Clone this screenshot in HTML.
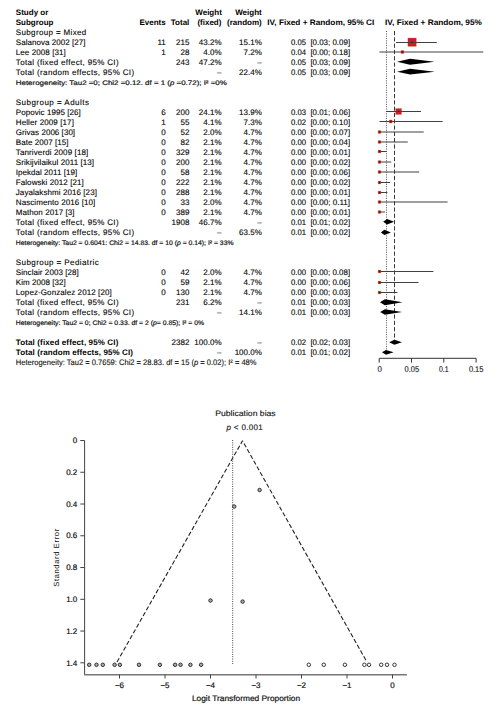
<!DOCTYPE html>
<html><head><meta charset="utf-8"><title>Forest and funnel plot</title>
<style>
html,body{margin:0;padding:0;background:#fff;}
svg{display:block;}
text{font-family:"Liberation Sans", sans-serif;text-rendering:geometricPrecision;stroke:#111;stroke-width:0.12px;}
text[font-weight=bold]{stroke-width:0.02px;}
</style></head>
<body>
<svg width="499" height="712" viewBox="0 0 499 712">
<rect width="499" height="712" fill="#fff"/>
<g id="table">
<text x="15.8" y="14.5" font-size="8" font-weight="bold" textLength="32.6" lengthAdjust="spacingAndGlyphs">Study or</text>
<text x="15.8" y="24.5" font-size="8" font-weight="bold" textLength="37.6" lengthAdjust="spacingAndGlyphs">Subgroup</text>
<text x="165.7" y="24.5" font-size="8" text-anchor="end" font-weight="bold">Events</text>
<text x="189.3" y="24.5" font-size="8" text-anchor="end" font-weight="bold">Total</text>
<text x="221.8" y="14.5" font-size="8" text-anchor="end" font-weight="bold">Weight</text>
<text x="221.4" y="24.5" font-size="8" text-anchor="end" font-weight="bold">(fixed)</text>
<text x="261.7" y="14.5" font-size="8" text-anchor="end" font-weight="bold">Weight</text>
<text x="261.7" y="24.5" font-size="8" text-anchor="end" font-weight="bold">(random)</text>
<text x="267.3" y="24.5" font-size="8" font-weight="bold" textLength="107" lengthAdjust="spacingAndGlyphs">IV, Fixed + Random, 95% CI</text>
<text x="385" y="24.5" font-size="8" font-weight="bold" textLength="96.9" lengthAdjust="spacingAndGlyphs">IV, Fixed + Random, 95%</text>
<text x="15.8" y="34.5" font-size="8" textLength="70.5" lengthAdjust="spacing">Subgroup = Mixed</text>
<text x="15.8" y="44.5" font-size="8" textLength="69.8" lengthAdjust="spacing">Salanova 2002 [27]</text>
<text x="165.7" y="44.5" font-size="8" text-anchor="end">11</text>
<text x="189.4" y="44.5" font-size="8" text-anchor="end">215</text>
<text x="221.5" y="44.5" font-size="8" text-anchor="end">43.2%</text>
<text x="261.8" y="44.5" font-size="8" text-anchor="end">15.1%</text>
<text x="291.0" y="44.5" font-size="8" textLength="15.0" lengthAdjust="spacingAndGlyphs">0.05</text>
<text x="310.4" y="44.5" font-size="8" textLength="39.7" lengthAdjust="spacingAndGlyphs">[0.03; 0.09]</text>
<text x="15.8" y="54.5" font-size="8" textLength="50.0" lengthAdjust="spacing">Lee 2008 [31]</text>
<text x="165.7" y="54.5" font-size="8" text-anchor="end">1</text>
<text x="189.4" y="54.5" font-size="8" text-anchor="end">28</text>
<text x="221.5" y="54.5" font-size="8" text-anchor="end">4.0%</text>
<text x="261.8" y="54.5" font-size="8" text-anchor="end">7.2%</text>
<text x="291.0" y="54.5" font-size="8" textLength="15.0" lengthAdjust="spacingAndGlyphs">0.04</text>
<text x="310.4" y="54.5" font-size="8" textLength="39.7" lengthAdjust="spacingAndGlyphs">[0.00; 0.18]</text>
<text x="15.8" y="64.5" font-size="8" textLength="102.8" lengthAdjust="spacing">Total (fixed effect, 95% CI)</text>
<text x="189.4" y="64.5" font-size="8" text-anchor="end">243</text>
<text x="221.5" y="64.5" font-size="8" text-anchor="end">47.2%</text>
<text x="261.8" y="64.5" font-size="8" text-anchor="end" style="stroke-width:0.12px">–</text>
<text x="291.0" y="64.5" font-size="8" textLength="15.0" lengthAdjust="spacingAndGlyphs">0.05</text>
<text x="310.4" y="64.5" font-size="8" textLength="39.7" lengthAdjust="spacingAndGlyphs">[0.03; 0.09]</text>
<text x="15.8" y="74.5" font-size="8" textLength="118.3" lengthAdjust="spacing">Total (random effects, 95% CI)</text>
<text x="221.5" y="74.5" font-size="8" text-anchor="end" style="stroke-width:0.12px">–</text>
<text x="261.8" y="74.5" font-size="8" text-anchor="end">22.4%</text>
<text x="291.0" y="74.5" font-size="8" textLength="15.0" lengthAdjust="spacingAndGlyphs">0.05</text>
<text x="310.4" y="74.5" font-size="8" textLength="39.7" lengthAdjust="spacingAndGlyphs">[0.03; 0.09]</text>
<text x="15.8" y="104.5" font-size="8" textLength="73.1" lengthAdjust="spacing">Subgroup = Adults</text>
<text x="15.8" y="114.5" font-size="8" textLength="65.0" lengthAdjust="spacing">Popovic 1995 [26]</text>
<text x="165.7" y="114.5" font-size="8" text-anchor="end">6</text>
<text x="189.4" y="114.5" font-size="8" text-anchor="end">200</text>
<text x="221.5" y="114.5" font-size="8" text-anchor="end">24.1%</text>
<text x="261.8" y="114.5" font-size="8" text-anchor="end">13.9%</text>
<text x="291.0" y="114.5" font-size="8" textLength="15.0" lengthAdjust="spacingAndGlyphs">0.03</text>
<text x="310.4" y="114.5" font-size="8" textLength="39.7" lengthAdjust="spacingAndGlyphs">[0.01; 0.06]</text>
<text x="15.8" y="124.5" font-size="8" textLength="58.1" lengthAdjust="spacing">Heller 2009 [17]</text>
<text x="165.7" y="124.5" font-size="8" text-anchor="end">1</text>
<text x="189.4" y="124.5" font-size="8" text-anchor="end">55</text>
<text x="221.5" y="124.5" font-size="8" text-anchor="end">4.1%</text>
<text x="261.8" y="124.5" font-size="8" text-anchor="end">7.3%</text>
<text x="291.0" y="124.5" font-size="8" textLength="15.0" lengthAdjust="spacingAndGlyphs">0.02</text>
<text x="310.4" y="124.5" font-size="8" textLength="39.7" lengthAdjust="spacingAndGlyphs">[0.00; 0.10]</text>
<text x="15.8" y="134.5" font-size="8" textLength="59.3" lengthAdjust="spacing">Grivas 2006 [30]</text>
<text x="165.7" y="134.5" font-size="8" text-anchor="end">0</text>
<text x="189.4" y="134.5" font-size="8" text-anchor="end">52</text>
<text x="221.5" y="134.5" font-size="8" text-anchor="end">2.0%</text>
<text x="261.8" y="134.5" font-size="8" text-anchor="end">4.7%</text>
<text x="291.0" y="134.5" font-size="8" textLength="15.0" lengthAdjust="spacingAndGlyphs">0.00</text>
<text x="310.4" y="134.5" font-size="8" textLength="39.7" lengthAdjust="spacingAndGlyphs">[0.00; 0.07]</text>
<text x="15.8" y="144.5" font-size="8" textLength="52.6" lengthAdjust="spacing">Bate 2007 [15]</text>
<text x="165.7" y="144.5" font-size="8" text-anchor="end">0</text>
<text x="189.4" y="144.5" font-size="8" text-anchor="end">82</text>
<text x="221.5" y="144.5" font-size="8" text-anchor="end">2.1%</text>
<text x="261.8" y="144.5" font-size="8" text-anchor="end">4.7%</text>
<text x="291.0" y="144.5" font-size="8" textLength="15.0" lengthAdjust="spacingAndGlyphs">0.00</text>
<text x="310.4" y="144.5" font-size="8" textLength="39.7" lengthAdjust="spacingAndGlyphs">[0.00; 0.04]</text>
<text x="15.8" y="154.5" font-size="8" textLength="72.5" lengthAdjust="spacing">Tanriverdi 2009 [18]</text>
<text x="165.7" y="154.5" font-size="8" text-anchor="end">0</text>
<text x="189.4" y="154.5" font-size="8" text-anchor="end">329</text>
<text x="221.5" y="154.5" font-size="8" text-anchor="end">2.1%</text>
<text x="261.8" y="154.5" font-size="8" text-anchor="end">4.7%</text>
<text x="291.0" y="154.5" font-size="8" textLength="15.0" lengthAdjust="spacingAndGlyphs">0.00</text>
<text x="310.4" y="154.5" font-size="8" textLength="39.7" lengthAdjust="spacingAndGlyphs">[0.00; 0.01]</text>
<text x="15.8" y="164.5" font-size="8" textLength="78.3" lengthAdjust="spacing">Srikijvilaikul 2011 [13]</text>
<text x="165.7" y="164.5" font-size="8" text-anchor="end">0</text>
<text x="189.4" y="164.5" font-size="8" text-anchor="end">200</text>
<text x="221.5" y="164.5" font-size="8" text-anchor="end">2.1%</text>
<text x="261.8" y="164.5" font-size="8" text-anchor="end">4.7%</text>
<text x="291.0" y="164.5" font-size="8" textLength="15.0" lengthAdjust="spacingAndGlyphs">0.00</text>
<text x="310.4" y="164.5" font-size="8" textLength="39.7" lengthAdjust="spacingAndGlyphs">[0.00; 0.02]</text>
<text x="15.8" y="174.5" font-size="8" textLength="61.4" lengthAdjust="spacing">Ipekdal 2011 [19]</text>
<text x="165.7" y="174.5" font-size="8" text-anchor="end">0</text>
<text x="189.4" y="174.5" font-size="8" text-anchor="end">58</text>
<text x="221.5" y="174.5" font-size="8" text-anchor="end">2.1%</text>
<text x="261.8" y="174.5" font-size="8" text-anchor="end">4.7%</text>
<text x="291.0" y="174.5" font-size="8" textLength="15.0" lengthAdjust="spacingAndGlyphs">0.00</text>
<text x="310.4" y="174.5" font-size="8" textLength="39.7" lengthAdjust="spacingAndGlyphs">[0.00; 0.06]</text>
<text x="15.8" y="184.5" font-size="8" textLength="67.9" lengthAdjust="spacing">Falowski 2012 [21]</text>
<text x="165.7" y="184.5" font-size="8" text-anchor="end">0</text>
<text x="189.4" y="184.5" font-size="8" text-anchor="end">222</text>
<text x="221.5" y="184.5" font-size="8" text-anchor="end">2.1%</text>
<text x="261.8" y="184.5" font-size="8" text-anchor="end">4.7%</text>
<text x="291.0" y="184.5" font-size="8" textLength="15.0" lengthAdjust="spacingAndGlyphs">0.00</text>
<text x="310.4" y="184.5" font-size="8" textLength="39.7" lengthAdjust="spacingAndGlyphs">[0.00; 0.02]</text>
<text x="15.8" y="194.5" font-size="8" textLength="81.1" lengthAdjust="spacing">Jayalakshmi 2016 [23]</text>
<text x="165.7" y="194.5" font-size="8" text-anchor="end">0</text>
<text x="189.4" y="194.5" font-size="8" text-anchor="end">288</text>
<text x="221.5" y="194.5" font-size="8" text-anchor="end">2.1%</text>
<text x="261.8" y="194.5" font-size="8" text-anchor="end">4.7%</text>
<text x="291.0" y="194.5" font-size="8" textLength="15.0" lengthAdjust="spacingAndGlyphs">0.00</text>
<text x="310.4" y="194.5" font-size="8" textLength="39.7" lengthAdjust="spacingAndGlyphs">[0.00; 0.01]</text>
<text x="15.8" y="204.5" font-size="8" textLength="79.5" lengthAdjust="spacing">Nascimento 2016 [10]</text>
<text x="165.7" y="204.5" font-size="8" text-anchor="end">0</text>
<text x="189.4" y="204.5" font-size="8" text-anchor="end">33</text>
<text x="221.5" y="204.5" font-size="8" text-anchor="end">2.0%</text>
<text x="261.8" y="204.5" font-size="8" text-anchor="end">4.7%</text>
<text x="291.0" y="204.5" font-size="8" textLength="15.0" lengthAdjust="spacingAndGlyphs">0.00</text>
<text x="310.4" y="204.5" font-size="8" textLength="39.7" lengthAdjust="spacingAndGlyphs">[0.00; 0.11]</text>
<text x="15.8" y="214.5" font-size="8" textLength="58.7" lengthAdjust="spacing">Mathon 2017 [3]</text>
<text x="165.7" y="214.5" font-size="8" text-anchor="end">0</text>
<text x="189.4" y="214.5" font-size="8" text-anchor="end">389</text>
<text x="221.5" y="214.5" font-size="8" text-anchor="end">2.1%</text>
<text x="261.8" y="214.5" font-size="8" text-anchor="end">4.7%</text>
<text x="291.0" y="214.5" font-size="8" textLength="15.0" lengthAdjust="spacingAndGlyphs">0.00</text>
<text x="310.4" y="214.5" font-size="8" textLength="39.7" lengthAdjust="spacingAndGlyphs">[0.00; 0.01]</text>
<text x="15.8" y="224.5" font-size="8" textLength="102.8" lengthAdjust="spacing">Total (fixed effect, 95% CI)</text>
<text x="189.4" y="224.5" font-size="8" text-anchor="end">1908</text>
<text x="221.5" y="224.5" font-size="8" text-anchor="end">46.7%</text>
<text x="261.8" y="224.5" font-size="8" text-anchor="end" style="stroke-width:0.12px">–</text>
<text x="291.0" y="224.5" font-size="8" textLength="15.0" lengthAdjust="spacingAndGlyphs">0.01</text>
<text x="310.4" y="224.5" font-size="8" textLength="39.7" lengthAdjust="spacingAndGlyphs">[0.01; 0.02]</text>
<text x="15.8" y="234.5" font-size="8" textLength="118.3" lengthAdjust="spacing">Total (random effects, 95% CI)</text>
<text x="221.5" y="234.5" font-size="8" text-anchor="end" style="stroke-width:0.12px">–</text>
<text x="261.8" y="234.5" font-size="8" text-anchor="end">63.5%</text>
<text x="291.0" y="234.5" font-size="8" textLength="15.0" lengthAdjust="spacingAndGlyphs">0.01</text>
<text x="310.4" y="234.5" font-size="8" textLength="39.7" lengthAdjust="spacingAndGlyphs">[0.00; 0.02]</text>
<text x="15.8" y="264.5" font-size="8" textLength="83.0" lengthAdjust="spacing">Subgroup = Pediatric</text>
<text x="15.8" y="274.5" font-size="8" textLength="63.0" lengthAdjust="spacing">Sinclair 2003 [28]</text>
<text x="165.7" y="274.5" font-size="8" text-anchor="end">0</text>
<text x="189.4" y="274.5" font-size="8" text-anchor="end">42</text>
<text x="221.5" y="274.5" font-size="8" text-anchor="end">2.0%</text>
<text x="261.8" y="274.5" font-size="8" text-anchor="end">4.7%</text>
<text x="291.0" y="274.5" font-size="8" textLength="15.0" lengthAdjust="spacingAndGlyphs">0.00</text>
<text x="310.4" y="274.5" font-size="8" textLength="39.7" lengthAdjust="spacingAndGlyphs">[0.00; 0.08]</text>
<text x="15.8" y="284.5" font-size="8" textLength="49.9" lengthAdjust="spacing">Kim 2008 [32]</text>
<text x="165.7" y="284.5" font-size="8" text-anchor="end">0</text>
<text x="189.4" y="284.5" font-size="8" text-anchor="end">59</text>
<text x="221.5" y="284.5" font-size="8" text-anchor="end">2.1%</text>
<text x="261.8" y="284.5" font-size="8" text-anchor="end">4.7%</text>
<text x="291.0" y="284.5" font-size="8" textLength="15.0" lengthAdjust="spacingAndGlyphs">0.00</text>
<text x="310.4" y="284.5" font-size="8" textLength="39.7" lengthAdjust="spacingAndGlyphs">[0.00; 0.06]</text>
<text x="15.8" y="294.5" font-size="8" textLength="95.9" lengthAdjust="spacing">Lopez-Gonzalez 2012 [20]</text>
<text x="165.7" y="294.5" font-size="8" text-anchor="end">0</text>
<text x="189.4" y="294.5" font-size="8" text-anchor="end">130</text>
<text x="221.5" y="294.5" font-size="8" text-anchor="end">2.1%</text>
<text x="261.8" y="294.5" font-size="8" text-anchor="end">4.7%</text>
<text x="291.0" y="294.5" font-size="8" textLength="15.0" lengthAdjust="spacingAndGlyphs">0.00</text>
<text x="310.4" y="294.5" font-size="8" textLength="39.7" lengthAdjust="spacingAndGlyphs">[0.00; 0.03]</text>
<text x="15.8" y="304.5" font-size="8" textLength="102.8" lengthAdjust="spacing">Total (fixed effect, 95% CI)</text>
<text x="189.4" y="304.5" font-size="8" text-anchor="end">231</text>
<text x="221.5" y="304.5" font-size="8" text-anchor="end">6.2%</text>
<text x="261.8" y="304.5" font-size="8" text-anchor="end" style="stroke-width:0.12px">–</text>
<text x="291.0" y="304.5" font-size="8" textLength="15.0" lengthAdjust="spacingAndGlyphs">0.01</text>
<text x="310.4" y="304.5" font-size="8" textLength="39.7" lengthAdjust="spacingAndGlyphs">[0.00; 0.03]</text>
<text x="15.8" y="314.5" font-size="8" textLength="118.3" lengthAdjust="spacing">Total (random effects, 95% CI)</text>
<text x="221.5" y="314.5" font-size="8" text-anchor="end" style="stroke-width:0.12px">–</text>
<text x="261.8" y="314.5" font-size="8" text-anchor="end">14.1%</text>
<text x="291.0" y="314.5" font-size="8" textLength="15.0" lengthAdjust="spacingAndGlyphs">0.01</text>
<text x="310.4" y="314.5" font-size="8" textLength="39.7" lengthAdjust="spacingAndGlyphs">[0.00; 0.03]</text>
<text x="15.8" y="344.5" font-size="8" font-weight="bold" textLength="102.5" lengthAdjust="spacing">Total (fixed effect, 95% CI)</text>
<text x="189.4" y="344.5" font-size="8" text-anchor="end">2382</text>
<text x="221.5" y="344.5" font-size="8" text-anchor="end">100.0%</text>
<text x="261.8" y="344.5" font-size="8" text-anchor="end" style="stroke-width:0.12px">–</text>
<text x="291.0" y="344.5" font-size="8" textLength="15.0" lengthAdjust="spacingAndGlyphs">0.02</text>
<text x="310.4" y="344.5" font-size="8" textLength="39.7" lengthAdjust="spacingAndGlyphs">[0.02; 0.03]</text>
<text x="15.8" y="354.5" font-size="8" font-weight="bold" textLength="117.2" lengthAdjust="spacing">Total (random effects, 95% CI)</text>
<text x="221.5" y="354.5" font-size="8" text-anchor="end" style="stroke-width:0.12px">–</text>
<text x="261.8" y="354.5" font-size="8" text-anchor="end">100.0%</text>
<text x="291.0" y="354.5" font-size="8" textLength="15.0" lengthAdjust="spacingAndGlyphs">0.01</text>
<text x="310.4" y="354.5" font-size="8" textLength="39.7" lengthAdjust="spacingAndGlyphs">[0.01; 0.02]</text>
<text x="15.8" y="84.9" font-size="6.6" textLength="211" lengthAdjust="spacingAndGlyphs" fill="#111" style="stroke-width:0.2px">Heterogeneity: Tau2 =0; Chi2 =0.12. df = 1 (<tspan font-style="italic">p</tspan>  =0.72); I² =0%</text>
<text x="15.8" y="244.9" font-size="6.6" textLength="217.7" lengthAdjust="spacingAndGlyphs" fill="#111" style="stroke-width:0.2px">Heterogeneity: Tau2 = 0.6041: Chi2 = 14.83. df = 10 (<tspan font-style="italic">p</tspan> = 0.14); I² = 33%</text>
<text x="15.8" y="324.9" font-size="6.6" textLength="188.3" lengthAdjust="spacingAndGlyphs" fill="#111" style="stroke-width:0.2px">Heterogeneity: Tau2 = 0; Chi2 = 0.33. df = 2 (<tspan font-style="italic">p</tspan>= 0.85); I² = 0%</text>
<text x="15.8" y="364.9" font-size="8" textLength="240.7" lengthAdjust="spacingAndGlyphs" fill="#111" style="stroke-width:0.12px">Heterogeneity: Tau2 = 0.7659: Chi2 = 28.83. df = 15 (<tspan font-style="italic">p</tspan> = 0.02); I² = 48%</text>
</g>
<g id="forest">
<line x1="386.5" y1="31" x2="386.5" y2="350" stroke="#4a4a4a" stroke-width="0.95" stroke-dasharray="1 1.35"/>
<line x1="394.5" y1="31" x2="394.5" y2="340" stroke="#3a3a3a" stroke-width="1" stroke-dasharray="4.2 2.1"/>
<line x1="396" y1="42.5" x2="436.6" y2="42.5" stroke="#404040" stroke-width="1"/>
<line x1="379.4" y1="52" x2="483.3" y2="52" stroke="#404040" stroke-width="1"/>
<line x1="386.2" y1="111.5" x2="421" y2="111.5" stroke="#404040" stroke-width="1"/>
<line x1="379.5" y1="121.5" x2="442.6" y2="121.5" stroke="#404040" stroke-width="1"/>
<line x1="379.5" y1="132" x2="423.7" y2="132" stroke="#404040" stroke-width="1"/>
<line x1="379.5" y1="142" x2="407.8" y2="142" stroke="#404040" stroke-width="1"/>
<line x1="379.5" y1="151.5" x2="386.7" y2="151.5" stroke="#404040" stroke-width="1"/>
<line x1="379.5" y1="162" x2="391.2" y2="162" stroke="#404040" stroke-width="1"/>
<line x1="379.5" y1="172" x2="419.2" y2="172" stroke="#404040" stroke-width="1"/>
<line x1="379.5" y1="182.5" x2="389.9" y2="182.5" stroke="#404040" stroke-width="1"/>
<line x1="379.5" y1="192.5" x2="387.4" y2="192.5" stroke="#404040" stroke-width="1"/>
<line x1="379.5" y1="202" x2="447.6" y2="202" stroke="#404040" stroke-width="1"/>
<line x1="379.5" y1="212" x2="385" y2="212" stroke="#404040" stroke-width="1"/>
<line x1="379.5" y1="271.5" x2="433.4" y2="271.5" stroke="#404040" stroke-width="1"/>
<line x1="379.5" y1="282.5" x2="418.5" y2="282.5" stroke="#404040" stroke-width="1"/>
<line x1="379.5" y1="292.5" x2="397.5" y2="292.5" stroke="#404040" stroke-width="1"/>
<rect x="407.90" y="38.00" width="8.4" height="8.4" fill="#c61f2b" stroke="#e0703a" stroke-width="0.3"/>
<rect x="400.90" y="50.50" width="3" height="3" fill="#b01a14" stroke="#d65a2c" stroke-width="0.3" rx="0.6"/>
<rect x="395.60" y="108.50" width="6" height="6" fill="#c61f2b" stroke="#e0703a" stroke-width="0.3"/>
<rect x="389.20" y="120.00" width="3" height="3" fill="#b01a14" stroke="#d65a2c" stroke-width="0.3" rx="0.6"/>
<rect x="378.10" y="130.60" width="2.8" height="2.8" fill="#b01a14" stroke="#d65a2c" stroke-width="0.3" rx="0.6"/>
<rect x="378.10" y="140.60" width="2.8" height="2.8" fill="#b01a14" stroke="#d65a2c" stroke-width="0.3" rx="0.6"/>
<rect x="378.10" y="150.10" width="2.8" height="2.8" fill="#b01a14" stroke="#d65a2c" stroke-width="0.3" rx="0.6"/>
<rect x="378.10" y="160.60" width="2.8" height="2.8" fill="#b01a14" stroke="#d65a2c" stroke-width="0.3" rx="0.6"/>
<rect x="378.10" y="170.60" width="2.8" height="2.8" fill="#b01a14" stroke="#d65a2c" stroke-width="0.3" rx="0.6"/>
<rect x="378.10" y="181.10" width="2.8" height="2.8" fill="#b01a14" stroke="#d65a2c" stroke-width="0.3" rx="0.6"/>
<rect x="378.10" y="191.10" width="2.8" height="2.8" fill="#b01a14" stroke="#d65a2c" stroke-width="0.3" rx="0.6"/>
<rect x="378.10" y="200.60" width="2.8" height="2.8" fill="#b01a14" stroke="#d65a2c" stroke-width="0.3" rx="0.6"/>
<rect x="378.10" y="210.60" width="2.8" height="2.8" fill="#b01a14" stroke="#d65a2c" stroke-width="0.3" rx="0.6"/>
<rect x="378.10" y="270.10" width="2.8" height="2.8" fill="#b01a14" stroke="#d65a2c" stroke-width="0.3" rx="0.6"/>
<rect x="378.10" y="281.10" width="2.8" height="2.8" fill="#b01a14" stroke="#d65a2c" stroke-width="0.3" rx="0.6"/>
<rect x="378.10" y="291.10" width="2.8" height="2.8" fill="#b01a14" stroke="#d65a2c" stroke-width="0.3" rx="0.6"/>
<line x1="396" y1="42.5" x2="436.6" y2="42.5" stroke="#404040" stroke-width="0.8"/>
<line x1="386.2" y1="111.5" x2="421" y2="111.5" stroke="#404040" stroke-width="0.8"/>
<circle cx="412.1" cy="42.2" r="0.6" fill="#3a0c08"/>
<circle cx="402.4" cy="52" r="0.6" fill="#3a0c08"/>
<circle cx="398.6" cy="111.5" r="0.6" fill="#3a0c08"/>
<circle cx="390.7" cy="121.5" r="0.6" fill="#3a0c08"/>
<circle cx="379.5" cy="132" r="0.6" fill="#3a0c08"/>
<circle cx="379.5" cy="142" r="0.6" fill="#3a0c08"/>
<circle cx="379.5" cy="151.5" r="0.6" fill="#3a0c08"/>
<circle cx="379.5" cy="162" r="0.6" fill="#3a0c08"/>
<circle cx="379.5" cy="172" r="0.6" fill="#3a0c08"/>
<circle cx="379.5" cy="182.5" r="0.6" fill="#3a0c08"/>
<circle cx="379.5" cy="192.5" r="0.6" fill="#3a0c08"/>
<circle cx="379.5" cy="202" r="0.6" fill="#3a0c08"/>
<circle cx="379.5" cy="212" r="0.6" fill="#3a0c08"/>
<circle cx="379.5" cy="271.5" r="0.6" fill="#3a0c08"/>
<circle cx="379.5" cy="282.5" r="0.6" fill="#3a0c08"/>
<circle cx="379.5" cy="292.5" r="0.6" fill="#3a0c08"/>
<polygon points="397.0,61.75 410.0,58.8 434.6,61.75 410.0,64.7" fill="#000"/>
<polygon points="397.0,71.70 410.0,68.8 434.8,71.70 410.0,74.6" fill="#000"/>
<polygon points="383.2,221.85 387.1,219.1 394.0,221.85 387.1,224.6" fill="#000"/>
<polygon points="380.9,232.40 384.4,229.7 390.9,232.40 384.4,235.1" fill="#000"/>
<polygon points="380.0,302.20 384.8,299.2 402.5,302.20 384.8,305.2" fill="#000"/>
<polygon points="380.2,312.00 384.8,309.2 402.0,312.00 384.8,314.8" fill="#000"/>
<polygon points="389.2,342.30 394.4,339.8 402.0,342.30 394.4,344.8" fill="#000"/>
<polygon points="382.0,352.30 386.0,349.9 393.6,352.30 386.0,354.7" fill="#000"/>
<line x1="379.2" y1="358.3" x2="476.1" y2="358.3" stroke="#333" stroke-width="1"/>
<line x1="379.2" y1="358.3" x2="379.2" y2="362.6" stroke="#333" stroke-width="1"/>
<text x="377.4" y="371.9" font-size="8.4" textLength="4.4" lengthAdjust="spacingAndGlyphs" fill="#111">0</text>
<line x1="411.5" y1="358.3" x2="411.5" y2="362.6" stroke="#333" stroke-width="1"/>
<text x="404.5" y="371.9" font-size="8.4" textLength="14.6" lengthAdjust="spacingAndGlyphs" fill="#111">0.05</text>
<line x1="443.8" y1="358.3" x2="443.8" y2="362.6" stroke="#333" stroke-width="1"/>
<text x="438.9" y="371.9" font-size="8.4" textLength="9.6" lengthAdjust="spacingAndGlyphs" fill="#111">0.1</text>
<line x1="476.1" y1="358.3" x2="476.1" y2="362.6" stroke="#333" stroke-width="1"/>
<text x="468.9" y="371.9" font-size="8.4" textLength="14.5" lengthAdjust="spacingAndGlyphs" fill="#111">0.15</text>
</g>
<g id="funnel">
<line x1="84.6" y1="440.5" x2="84.6" y2="674.7" stroke="#444" stroke-width="1"/>
<line x1="84.1" y1="674.7" x2="406.9" y2="674.7" stroke="#777" stroke-width="1.4"/>
<line x1="80.3" y1="440.50" x2="84.6" y2="440.50" stroke="#444" stroke-width="1"/>
<text x="77.3" y="443.20" font-size="8" text-anchor="end" fill="#111" style="stroke-width:0.2px">0</text>
<line x1="80.3" y1="472.26" x2="84.6" y2="472.26" stroke="#444" stroke-width="1"/>
<text x="77.3" y="474.96" font-size="8" text-anchor="end" fill="#111" style="stroke-width:0.2px">0.2</text>
<line x1="80.3" y1="504.02" x2="84.6" y2="504.02" stroke="#444" stroke-width="1"/>
<text x="77.3" y="506.72" font-size="8" text-anchor="end" fill="#111" style="stroke-width:0.2px">0.4</text>
<line x1="80.3" y1="535.78" x2="84.6" y2="535.78" stroke="#444" stroke-width="1"/>
<text x="77.3" y="538.48" font-size="8" text-anchor="end" fill="#111" style="stroke-width:0.2px">0.6</text>
<line x1="80.3" y1="567.54" x2="84.6" y2="567.54" stroke="#444" stroke-width="1"/>
<text x="77.3" y="570.24" font-size="8" text-anchor="end" fill="#111" style="stroke-width:0.2px">0.8</text>
<line x1="80.3" y1="599.30" x2="84.6" y2="599.30" stroke="#444" stroke-width="1"/>
<text x="77.3" y="602.00" font-size="8" text-anchor="end" fill="#111" style="stroke-width:0.2px">1.0</text>
<line x1="80.3" y1="631.06" x2="84.6" y2="631.06" stroke="#444" stroke-width="1"/>
<text x="77.3" y="633.76" font-size="8" text-anchor="end" fill="#111" style="stroke-width:0.2px">1.2</text>
<line x1="80.3" y1="662.82" x2="84.6" y2="662.82" stroke="#444" stroke-width="1"/>
<text x="77.3" y="665.52" font-size="8" text-anchor="end" fill="#111" style="stroke-width:0.2px">1.4</text>
<line x1="119.5" y1="674.7" x2="119.5" y2="678.5" stroke="#444" stroke-width="1"/>
<text x="119.5" y="688.2" font-size="8" text-anchor="middle" fill="#111" style="stroke-width:0.2px">−6</text>
<line x1="165.0" y1="674.7" x2="165.0" y2="678.5" stroke="#444" stroke-width="1"/>
<text x="165.0" y="688.2" font-size="8" text-anchor="middle" fill="#111" style="stroke-width:0.2px">−5</text>
<line x1="210.5" y1="674.7" x2="210.5" y2="678.5" stroke="#444" stroke-width="1"/>
<text x="210.5" y="688.2" font-size="8" text-anchor="middle" fill="#111" style="stroke-width:0.2px">−4</text>
<line x1="256.0" y1="674.7" x2="256.0" y2="678.5" stroke="#444" stroke-width="1"/>
<text x="256.0" y="688.2" font-size="8" text-anchor="middle" fill="#111" style="stroke-width:0.2px">−3</text>
<line x1="301.5" y1="674.7" x2="301.5" y2="678.5" stroke="#444" stroke-width="1"/>
<text x="301.5" y="688.2" font-size="8" text-anchor="middle" fill="#111" style="stroke-width:0.2px">−2</text>
<line x1="347.0" y1="674.7" x2="347.0" y2="678.5" stroke="#444" stroke-width="1"/>
<text x="347.0" y="688.2" font-size="8" text-anchor="middle" fill="#111" style="stroke-width:0.2px">−1</text>
<line x1="392.5" y1="674.7" x2="392.5" y2="678.5" stroke="#444" stroke-width="1"/>
<text x="392.5" y="688.2" font-size="8" text-anchor="middle" fill="#111" style="stroke-width:0.2px">0</text>
<line x1="232.7" y1="440" x2="232.7" y2="664" stroke="#444" stroke-width="1" stroke-dasharray="1 1.3"/>
<polyline points="117,662 242.5,440.8 366.9,662" fill="none" stroke="#222" stroke-width="1.1" stroke-dasharray="4.4 2.2" stroke-linejoin="bevel"/>
<circle cx="89.2" cy="664.8" r="1.75" fill="#aaa" stroke="#222" stroke-width="0.9"/>
<circle cx="96.5" cy="664.8" r="1.75" fill="#aaa" stroke="#222" stroke-width="0.9"/>
<circle cx="102.8" cy="664.8" r="1.75" fill="#aaa" stroke="#222" stroke-width="0.9"/>
<circle cx="114.6" cy="664.8" r="1.75" fill="#aaa" stroke="#222" stroke-width="0.9"/>
<circle cx="119.9" cy="664.8" r="1.75" fill="#aaa" stroke="#222" stroke-width="0.9"/>
<circle cx="139" cy="664.8" r="1.75" fill="#aaa" stroke="#222" stroke-width="0.9"/>
<circle cx="159.9" cy="664.8" r="1.75" fill="#aaa" stroke="#222" stroke-width="0.9"/>
<circle cx="175.1" cy="664.8" r="1.75" fill="#aaa" stroke="#222" stroke-width="0.9"/>
<circle cx="180.5" cy="664.8" r="1.75" fill="#aaa" stroke="#222" stroke-width="0.9"/>
<circle cx="190.4" cy="664.8" r="1.75" fill="#aaa" stroke="#222" stroke-width="0.9"/>
<circle cx="201.1" cy="664.8" r="1.75" fill="#aaa" stroke="#222" stroke-width="0.9"/>
<circle cx="259.6" cy="490" r="1.75" fill="#aaa" stroke="#222" stroke-width="0.9"/>
<circle cx="234.2" cy="506.5" r="1.75" fill="#aaa" stroke="#222" stroke-width="0.9"/>
<circle cx="210.5" cy="600.5" r="1.75" fill="#aaa" stroke="#222" stroke-width="0.9"/>
<circle cx="242.6" cy="601.6" r="1.75" fill="#aaa" stroke="#222" stroke-width="0.9"/>
<circle cx="308.8" cy="664.8" r="1.75" fill="#fff" stroke="#222" stroke-width="0.9"/>
<circle cx="323.8" cy="664.8" r="1.75" fill="#fff" stroke="#222" stroke-width="0.9"/>
<circle cx="344.9" cy="664.8" r="1.75" fill="#fff" stroke="#222" stroke-width="0.9"/>
<circle cx="364.4" cy="664.8" r="1.75" fill="#fff" stroke="#222" stroke-width="0.9"/>
<circle cx="369" cy="664.8" r="1.75" fill="#fff" stroke="#222" stroke-width="0.9"/>
<circle cx="381.2" cy="664.8" r="1.75" fill="#fff" stroke="#222" stroke-width="0.9"/>
<circle cx="387" cy="664.8" r="1.75" fill="#fff" stroke="#222" stroke-width="0.9"/>
<circle cx="394.5" cy="664.8" r="1.75" fill="#fff" stroke="#222" stroke-width="0.9"/>
<text x="215.2" y="415.9" font-size="8" textLength="60.5" lengthAdjust="spacingAndGlyphs" fill="#111">Publication bias</text>
<text x="226.5" y="429.8" font-size="8" textLength="36.3" lengthAdjust="spacing" fill="#111"><tspan font-style="italic">p</tspan> &lt; 0.001</text>
<text x="191.9" y="701.1" font-size="8" textLength="108.2" lengthAdjust="spacingAndGlyphs" fill="#111" style="stroke-width:0.2px">Logit Transformed Proportion</text>
<text transform="translate(59.0,586.8) rotate(-90)" x="0" y="0" font-size="7.6" textLength="58" lengthAdjust="spacing" fill="#111" style="stroke-width:0">Standard Error</text>
</g>
</svg>
</body></html>
